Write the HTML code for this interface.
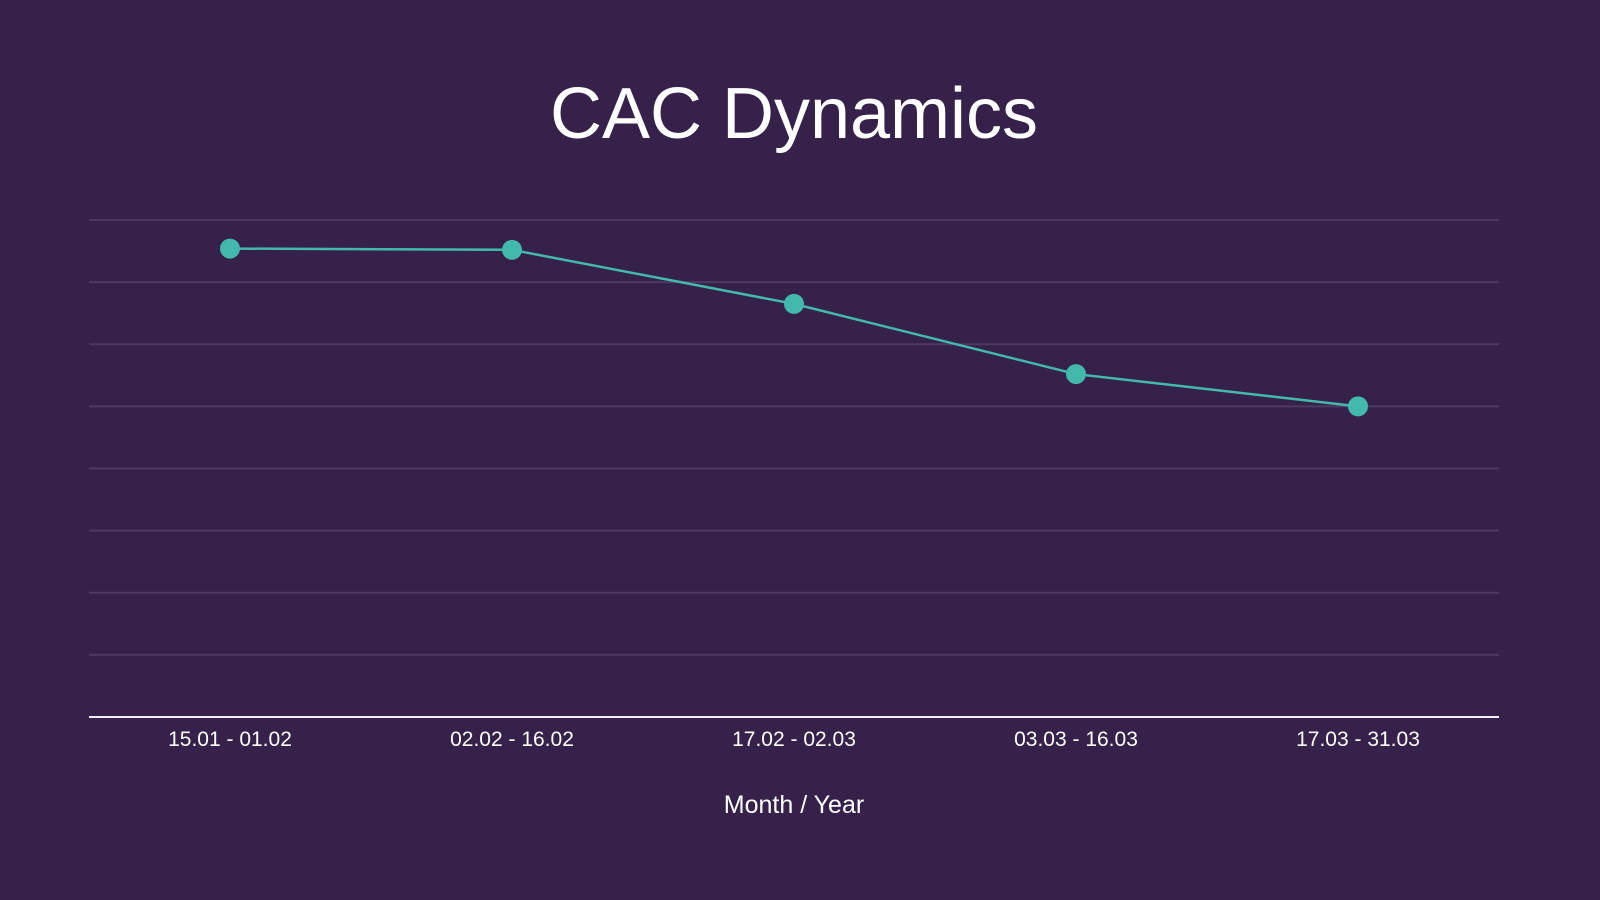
<!DOCTYPE html>
<html>
<head>
<meta charset="utf-8">
<style>
  html,body{margin:0;padding:0;background:#36214a;}
  svg{display:block;}
</style>
</head>
<body>
<svg id="chart" width="1600" height="900" viewBox="0 0 1600 900" xmlns="http://www.w3.org/2000/svg">
  <rect x="0" y="0" width="1600" height="900" fill="#36214a"/>
  <text x="794" y="138" text-anchor="middle" fill="#ffffff" font-family="Liberation Sans, sans-serif" font-size="72">CAC Dynamics</text>
  <g id="grid"></g>
  <g id="xaxis"></g>
  <g id="series"></g>
  <text x="794" y="813" text-anchor="middle" fill="#ffffff" font-family="Liberation Sans, sans-serif" font-size="25">Month / Year</text>
</svg>
<script>
const categories = ["15.01 - 01.02", "02.02 - 16.02", "17.02 - 02.03", "03.03 - 16.03", "17.03 - 31.03"];
const cacValues = [75.4, 75.2, 66.5, 55.2, 50.0];
const yTicks = [0, 10, 20, 30, 40, 50, 60, 70, 80];

const NS = "http://www.w3.org/2000/svg";
const plotLeft = 89, plotRight = 1499, plotTop = 220, plotBottom = 717;
const yMin = 0, yMax = 80;
const band = (plotRight - plotLeft) / categories.length;
function xScale(i){ return plotLeft + band * (i + 0.5); }
function yScale(v){ return plotBottom - (v - yMin) / (yMax - yMin) * (plotBottom - plotTop); }
function mk(tag, attrs){ const e = document.createElementNS(NS, tag); for (const k in attrs) e.setAttribute(k, attrs[k]); return e; }

const grid = document.getElementById('grid');
yTicks.forEach(t => {
  if (t === yMin) return;
  const l = mk('line', {x1:plotLeft, x2:plotRight, y1:yScale(t), y2:yScale(t), stroke:'#4d3962', 'stroke-width':2});
  
  
  grid.appendChild(l);
});

const xaxis = document.getElementById('xaxis');
const base = mk('line', {x1:plotLeft, x2:plotRight, y1:plotBottom, y2:plotBottom, stroke:'#f2eef5', 'stroke-width':2});


xaxis.appendChild(base);
categories.forEach((c, i) => {
  const t = mk('text', {x:xScale(i), y:746, 'text-anchor':'middle', fill:'#ffffff', 'font-family':'Liberation Sans, sans-serif', 'font-size':21});
  t.textContent = c;
  
  
  xaxis.appendChild(t);
});

const series = document.getElementById('series');
const pts = cacValues.map((v, i) => xScale(i) + ',' + yScale(v)).join(' ');
const line = mk('polyline', {points:pts, fill:'none', stroke:'#43b9ad', 'stroke-width':2.5});


series.appendChild(line);
cacValues.forEach((v, i) => {
  const c = mk('circle', {cx:xScale(i), cy:yScale(v), r:10, fill:'#43b9ad'});
  
  
  series.appendChild(c);
});
</script>
</body>
</html>
